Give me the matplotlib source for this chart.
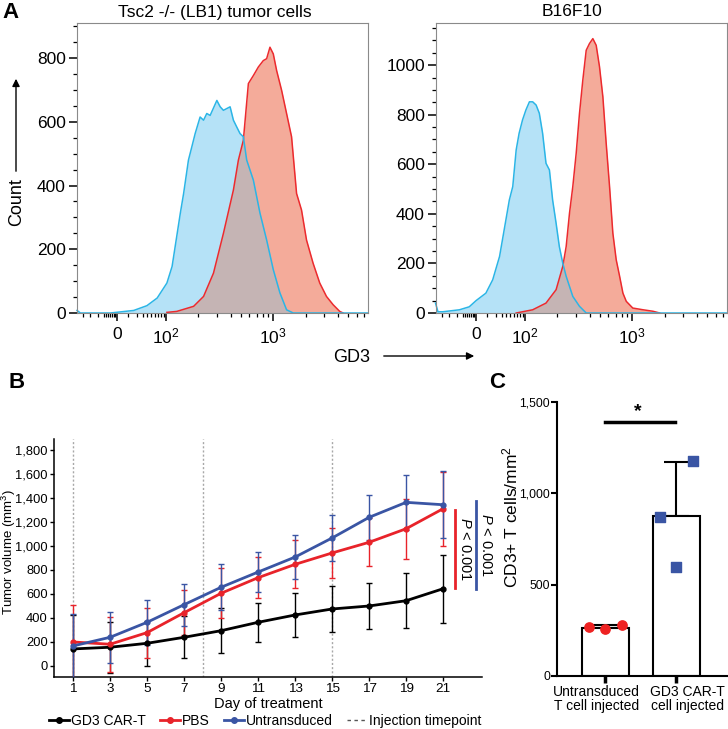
import numpy as np
import matplotlib
matplotlib.use("Agg")
import matplotlib.pyplot as plt
from matplotlib.lines import Line2D
from matplotlib.patches import FancyArrowPatch
from matplotlib.ticker import FixedLocator, FixedFormatter, FuncFormatter

plt.rcParams["font.family"] = ["Liberation Sans", "DejaVu Sans"]
plt.rcParams["mathtext.fontset"] = "custom"
plt.rcParams["mathtext.rm"] = "Liberation Sans"
plt.rcParams["mathtext.it"] = "Liberation Sans:italic"

# ---- panel A data (GD3 intensity, count) ----
lb1_ctrl_x = [-82, -75, -14, 34, 61, 82, 102, 114, 136, 146, 162, 174, 187, 208, 224, 240, 258,
              298, 320, 343, 396, 425, 456, 490, 526, 565, 652, 752, 867, 1000, 1153, 1330, 1535, 7630]
lb1_ctrl_y = [8, 0, 0, 8, 23, 47, 94, 146, 313, 375, 480, 521, 563, 615, 605, 626, 620,
              667, 647, 636, 647, 605, 584, 563, 553, 480, 417, 313, 229, 136, 63, 10, 0, 0]
lb1_gd3_x = [102, 126, 181, 224, 277, 343, 425, 473, 526, 586, 652, 726, 807, 867, 931, 1000,
             1074, 1195, 1330, 1480, 1648, 1833, 2040, 2350, 2710, 3130, 3610, 4160, 4470]
lb1_gd3_y = [2, 5, 21, 52, 125, 250, 386, 480, 542, 720, 745, 772, 792, 798, 834, 813,
             761, 699, 626, 553, 375, 323, 229, 156, 94, 52, 26, 5, 0]

b16_ctrl_x = [-83, -78, -68, -34, -14, 0, 20, 34, 48, 61, 68, 75, 82, 88, 95, 102, 110, 118,
              127, 136, 146, 157, 169, 181, 195, 209, 225, 242, 279, 322, 372, 7630]
b16_ctrl_y = [40, 5, 5, 13, 25, 50, 80, 134, 228, 376, 456, 510, 658, 725, 779, 819, 852, 852,
              839, 806, 725, 604, 577, 456, 362, 268, 201, 148, 67, 27, 0, 0]
b16_gd3_x = [82, 118, 157, 195, 225, 242, 260, 279, 300, 322, 346, 372, 399, 429, 461, 495,
             532, 571, 614, 659, 708, 762, 818, 879, 1010, 1260, 1560, 1800]
b16_gd3_y = [0, 13, 40, 94, 188, 268, 403, 510, 644, 805, 940, 1060, 1087, 1107, 1080, 993,
             872, 685, 510, 322, 215, 148, 80, 47, 20, 13, 7, 0]

# ---- panel B data ----
days = [1, 3, 5, 7, 9, 11, 13, 15, 17, 19, 21]
car_t = [142, 156, 189, 239, 294, 364, 425, 475, 500, 544, 644]
car_t_err = [280, 213, 189, 176, 190, 162, 186, 190, 189, 230, 285]
pbs = [200, 181, 278, 444, 606, 736, 847, 942, 1031, 1144, 1311]
pbs_err = [308, 230, 208, 190, 208, 173, 200, 210, 200, 250, 310]
untr = [167, 239, 364, 511, 656, 783, 908, 1067, 1239, 1364, 1344]
untr_err = [270, 215, 190, 175, 190, 163, 186, 190, 190, 230, 280]
injection_days = [1, 8, 15]

# ---- panel C data ----
c_groups = ["Untransduced\nT cell injected", "GD3 CAR-T\ncell injected"]
c_means = [264, 877]
c_sd = [15, 293]
c_untr_pts = [266, 259, 281]
c_cart_pts = [868, 598, 1177]
c_jitter = [-0.23, 0.0, 0.23]

W, H = 728, 729
fig = plt.figure(figsize=(W / 100, H / 100), dpi=100)


def fx(px):
    return px / W


def fy(py):
    return 1 - py / H


BLUE_E, BLUE_F = "#2bb5e6", "#b5e2f7"
RED_E, RED_F = "#ec2a2e", "#f4ab9a"
OVER = "#bdb6b9"


def histo(ax, bx, by, rx, ry, ymax, yticks):
    ax.set_xscale("symlog", linthresh=100, linscale=0.41)
    ax.fill_between(bx, by, color=BLUE_F, lw=0)
    ax.fill_between(rx, ry, color=RED_F, lw=0)
    ax.plot(rx, ry, color=RED_E, lw=1.1, clip_on=False)
    # overlap of the two histograms, drawn over the red edge
    grid = np.union1d(bx, rx)
    ov = np.minimum(np.interp(grid, bx, by, left=0, right=0), np.interp(grid, rx, ry, left=0, right=0))
    ax.fill_between(grid, ov, color=OVER, lw=0, alpha=0.85)
    ax.plot(bx, by, color=BLUE_E, lw=1.1, clip_on=False)
    ax.set_xlim(-82, 7630)
    ax.set_ylim(0, ymax)
    for s in ax.spines.values():
        s.set_color("#8a8a8a")
        s.set_linewidth(0.8)
    ax.set_yticks(yticks)
    ax.yaxis.set_minor_locator(FixedLocator(np.arange(0, ymax, 50)))
    ax.xaxis.set_major_locator(FixedLocator([0, 100, 1000]))
    ax.xaxis.set_major_formatter(FixedFormatter(["0", "$10^2$", "$10^3$"]))
    minors = [-70, -55, -40, -27, -22, -18, -14, -10, -7, -4, 23, 40, 52, 62, 70, 77, 84, 90, 95]
    minors += list(range(200, 1000, 100)) + list(range(2000, 8000, 1000))
    ax.xaxis.set_minor_locator(FixedLocator(minors))
    ax.tick_params(axis="both", which="major", labelsize=12.5, length=6, width=1.1, color="k", pad=2)
    ax.tick_params(axis="both", which="minor", length=3, width=0.9, color="k")
    ax.tick_params(axis="x", which="major", pad=4)


axA1 = fig.add_axes([fx(77), fy(313), fx(291), 290 / H])
histo(axA1, lb1_ctrl_x, lb1_ctrl_y, lb1_gd3_x, lb1_gd3_y, 910, [0, 200, 400, 600, 800])
axA2 = fig.add_axes([fx(436), fy(313), fx(291), 290 / H])
histo(axA2, b16_ctrl_x, b16_ctrl_y, b16_gd3_x, b16_gd3_y, 1170, [0, 200, 400, 600, 800, 1000])

fig.text(fx(215), fy(12), "Tsc2 -/- (LB1) tumor cells", ha="center", va="center", fontsize=12.5)
fig.text(fx(572), fy(12), "B16F10", ha="center", va="center", fontsize=12.5)
fig.text(fx(2), fy(12), "A", ha="left", va="center", fontsize=16, fontweight="bold")
fig.text(fx(17), fy(202), "Count", rotation=90, ha="center", va="center", fontsize=13)
fig.add_artist(FancyArrowPatch((fx(16), fy(174)), (fx(16), fy(76)), transform=fig.transFigure,
                               arrowstyle="-|>", mutation_scale=11, color="k", lw=1))
fig.text(fx(352), fy(357), "GD3", ha="center", va="center", fontsize=13)
fig.add_artist(FancyArrowPatch((fx(381), fy(356)), (fx(477), fy(356)), transform=fig.transFigure,
                               arrowstyle="-|>", mutation_scale=11, color="k", lw=1))

# ---- panel B ----
axB = fig.add_axes([fx(54), fy(677), fx(428), 238 / H])
for d in injection_days:
    axB.axvline(d, color="#a8a8a8", ls=(0, (1.5, 1.5)), lw=1, zorder=1)
series = [(car_t, car_t_err, "black", "GD3 CAR-T"),
          (pbs, pbs_err, "#e8232a", "PBS"),
          (untr, untr_err, "#3a55a4", "Untransduced")]
for vals, err, col, lab in series:
    axB.errorbar(days, vals, yerr=err, color=col, lw=2, marker="o", ms=3.5,
                 elinewidth=1, capsize=2, capthick=1, zorder=3, ecolor=col)
axB.set_xlim(-0.03, 23.1)
axB.set_ylim(-92, 1892)
axB.set_xticks(days)
axB.set_yticks(range(0, 1801, 200))
axB.yaxis.set_major_formatter(FuncFormatter(lambda v, p: f"{int(v):,}"))
for s in ["top", "right"]:
    axB.spines[s].set_visible(False)
for s in ["left", "bottom"]:
    axB.spines[s].set_linewidth(1.1)
axB.tick_params(axis="y", labelsize=9.3, length=3, width=1, pad=1.5)
axB.tick_params(axis="x", labelsize=9.7, length=3, width=1, pad=1.5)
axB.set_xlabel("Day of treatment", fontsize=10.5, labelpad=1)
fig.text(fx(8.5), fy(552), "Tumor volume (mm$^3$)", rotation=90, ha="center", va="center", fontsize=9.5)
axB.plot([21.65, 21.65], [647, 1300], color="#e8232a", lw=2, clip_on=False)
axB.plot([22.8, 22.8], [644, 1378], color="#3a55a4", lw=2, clip_on=False)
axB.text(22.2, 975, "$P$ < 0.001", rotation=-90, ha="center", va="center", fontsize=10.5, clip_on=False)
axB.text(23.3, 1010, "$P$ < 0.001", rotation=-90, ha="center", va="center", fontsize=10.5, clip_on=False)
handles = [Line2D([], [], color=c, lw=2, marker="o", ms=4) for _, _, c, _ in series]
handles.append(Line2D([], [], color="#555555", lw=1, ls=(0, (2.5, 2.5))))
labels = [s[3] for s in series] + ["Injection timepoint"]
fig.legend(handles, labels, ncol=4, loc="center", bbox_to_anchor=(fx(265), fy(721)), frameon=False,
           fontsize=10, handlelength=1.45, handletextpad=0.15, columnspacing=1.0, borderpad=0)
fig.text(fx(8), fy(382), "B", ha="left", va="center", fontsize=16, fontweight="bold")

# ---- panel C ----
axC = fig.add_axes([fx(557), fy(676), fx(171), 274 / H])
pos = [0, 1]
axC.bar(pos, c_means, width=0.66, color="white", edgecolor="black", lw=1.5, zorder=2)
axC.errorbar(pos, c_means, yerr=[[0, 0], c_sd], fmt="none", ecolor="black", elinewidth=1.5,
             capsize=9, capthick=1.5, zorder=1)
axC.scatter([pos[0] + j for j in c_jitter], c_untr_pts, s=45, color="#ee2222", zorder=3)
axC.scatter([pos[1] + j for j in c_jitter], c_cart_pts, s=45, marker="s", color="#3a55a4", zorder=3)
axC.plot([0.0, 0.98], [1392, 1392], color="black", lw=2.5)
axC.text(0.46, 1400, "*", ha="center", va="bottom", fontsize=14, fontweight="bold")
axC.set_xlim(-0.68, 1.73)
axC.set_ylim(0, 1500)
axC.set_xticks(pos)
axC.set_xticklabels([])
for xp, lab in zip([-0.12, 1.16], c_groups):
    axC.text(xp, -50, lab, ha="center", va="top", fontsize=10, linespacing=0.95,
             transform=axC.transData, clip_on=False)
axC.set_yticks([0, 500, 1000, 1500])
axC.yaxis.set_major_formatter(FuncFormatter(lambda v, p: f"{int(v):,}"))
for s in ["top", "right"]:
    axC.spines[s].set_visible(False)
for s in ["left", "bottom"]:
    axC.spines[s].set_linewidth(1.5)
axC.tick_params(axis="y", labelsize=8.8, length=4, width=1.5, pad=1)
axC.tick_params(axis="x", length=5, width=2.5, pad=2)
fig.text(fx(510), fy(517), "CD3+ T cells/mm$^2$", rotation=90, ha="center", va="center", fontsize=12.5)
fig.text(fx(497), fy(382), "C", ha="center", va="center", fontsize=16, fontweight="bold")

fig.savefig("out.png", dpi=100)
